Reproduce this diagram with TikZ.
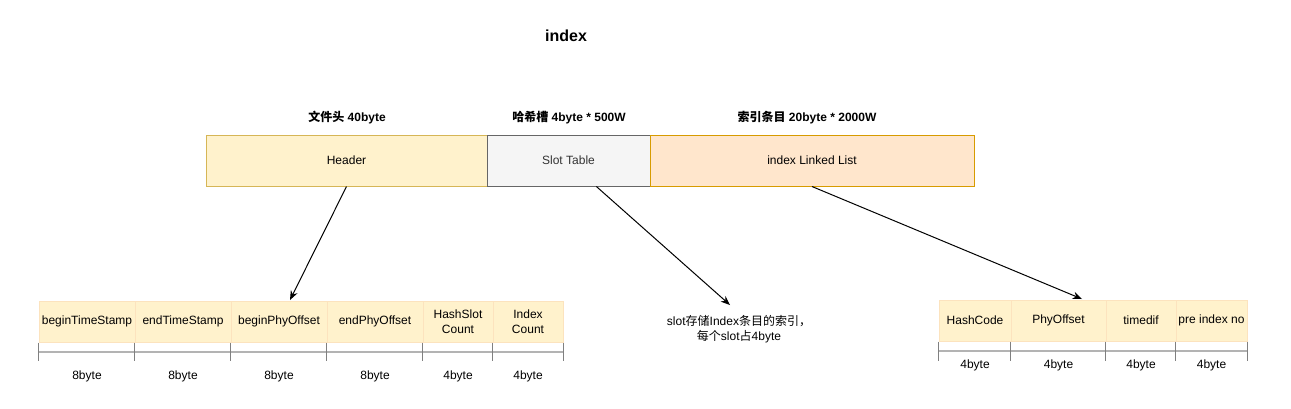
\documentclass[tikz,border=0pt]{standalone}
\usepackage{fontspec}
\setmainfont{Liberation Sans}
\newfontfamily\cjk{Noto Sans CJK SC}
\usetikzlibrary{arrows.meta,calc}
\definecolor{hdrfill}{HTML}{FFF2CC}
\definecolor{hdrline}{HTML}{D6B656}
\definecolor{slotfill}{HTML}{F5F5F5}
\definecolor{slotline}{HTML}{666666}
\definecolor{slottext}{HTML}{333333}
\definecolor{listfill}{HTML}{FFE6CC}
\definecolor{listline}{HTML}{D79B00}
\definecolor{cellline}{HTML}{FCE3BE}
\definecolor{dimline}{HTML}{B3B3B3}
\definecolor{tickline}{HTML}{808080}
\tikzset{
  bodytext/.style={font=\fontsize{9}{11}\selectfont, text=black},
  titletext/.style={font=\bfseries\fontsize{9}{11}\selectfont, text=black},
  topbox/.style={draw, line width=0.75pt, minimum height=38.25pt, inner sep=0pt, bodytext},
  cellbox/.style={draw=cellline, fill=hdrfill, line width=0.75pt, minimum height=30.75pt, inner sep=0pt, align=center, bodytext, font=\fontsize{9}{11.25}\selectfont},
  sizelabel/.style={bodytext, inner sep=0pt},
  arrowline/.style={-{Stealth[length=7pt,width=5.5pt]}, line width=0.75pt, black},
  dimbar/.style={draw=dimline, line width=1.5pt},
  dimtick/.style={draw=tickline, line width=0.75pt}
}
\begin{document}
\begin{tikzpicture}[x=0.75pt,y=-0.75pt]
\useasboundingbox[fill=white] (0,0) rectangle (1291,408);

% title
\node[font=\bfseries\fontsize{12}{14}\selectfont] (title) at (566,36) {index};

% top row
\node[topbox, draw=hdrline, fill=hdrfill, minimum width=210.75pt] (header) at (346.5,160.5) {Header};
\node[topbox, draw=slotline, fill=slotfill, text=slottext, minimum width=122.25pt] (slot) at (568.5,160.5) {Slot Table};
\node[topbox, draw=listline, fill=listfill, minimum width=243pt] (list) at (812,160.5) {index Linked List};

\node[titletext] (t1) at (347,118) {{\cjk\bfseries 文件头} 40byte};
\node[titletext] (t2) at (569,118) {{\cjk\bfseries 哈希槽} 4byte * 500W};
\node[titletext] (t3) at (807,118) {{\cjk\bfseries 索引条目} 20byte * 2000W};

% left table
\node[cellbox, minimum width=72pt] (a1) at (87,321.5) {beginTimeStamp};
\node[cellbox, minimum width=72pt] (a2) at (183,321.5) {endTimeStamp};
\node[cellbox, minimum width=72pt] (a3) at (279,321.5) {beginPhyOffset};
\node[cellbox, minimum width=72pt] (a4) at (375,321.5) {endPhyOffset};
\node[cellbox, minimum width=52.5pt] (a5) at (458,321.5) {HashSlot\\Count};
\node[cellbox, minimum width=52.5pt] (a6) at (528,321.5) {Index\\Count};

\draw[dimbar] (a1.south west |- 0,352) -- (a6.south east |- 0,352);
\foreach \c in {a1,a2,a3,a4,a5,a6} {
  \draw[dimtick] (\c.south west) -- ++(0,18);
}
\draw[dimtick] (a6.south east) -- ++(0,18);

\node[sizelabel] (b1) at (a1.center |- 0,376) {8byte};
\node[sizelabel] (b2) at (a2.center |- 0,376) {8byte};
\node[sizelabel] (b3) at (a3.center |- 0,376) {8byte};
\node[sizelabel] (b4) at (a4.center |- 0,376) {8byte};
\node[sizelabel] (b5) at (a5.center |- 0,376) {4byte};
\node[sizelabel] (b6) at (a6.center |- 0,376) {4byte};

% right table
\node[cellbox, minimum width=54pt] (r1) at (975,320.5) {HashCode};
\node[cellbox, minimum width=71.25pt] (r2) at (1058.5,320.5) {PhyOffset};
\node[cellbox, minimum width=52.5pt] (r3) at (1141,320.5) {timedif};
\node[cellbox, minimum width=53.25pt] (r4) at (1211.5,320.5) {pre index no};

\draw[dimbar] (r1.south west |- 0,351) -- (r4.south east |- 0,351);
\foreach \c in {r1,r2,r3,r4} {
  \draw[dimtick] (\c.south west) -- ++(0,19);
}
\draw[dimtick] (r4.south east) -- ++(0,19);

\node[sizelabel] (s1) at (r1.center |- 0,365) {4byte};
\node[sizelabel] (s2) at (r2.center |- 0,365) {4byte};
\node[sizelabel] (s3) at (r3.center |- 0,365) {4byte};
\node[sizelabel] (s4) at (r4.center |- 0,365) {4byte};

% note
\node[bodytext, align=center, inner sep=0pt] (note) at (739,329.5) {slot{\cjk 存储}Index{\cjk 条目的索引，}\\{\cjk 每个}slot{\cjk 占}4byte};

% arrows
\coordinate (slotout) at ($(slot.south west)!0.67!(slot.south east)$);
\coordinate (noteend) at (730,305);
\coordinate (a3in) at (290,300);
\coordinate (r2in) at (1082,299);
\draw[arrowline] (header.south) -- (a3in);
\draw[arrowline] (slotout) -- (noteend);
\draw[arrowline] (list.south) -- (r2in);
\end{tikzpicture}
\end{document}
